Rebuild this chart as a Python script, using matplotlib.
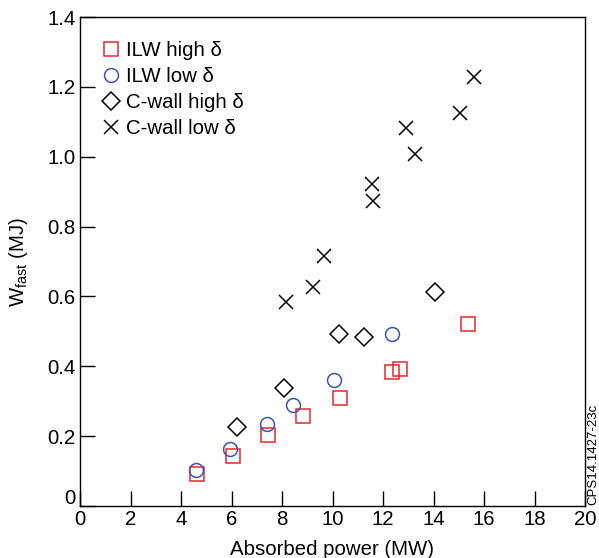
import matplotlib
matplotlib.use("Agg")
import matplotlib.pyplot as plt
from matplotlib.transforms import ScaledTranslation

plt.rcParams['font.family'] = ['Liberation Sans', 'DejaVu Sans']
plt.rcParams['mathtext.fontset'] = 'custom'
plt.rcParams['mathtext.rm'] = 'Liberation Sans'
plt.rcParams['mathtext.it'] = 'Liberation Sans:italic'

# Data
ilw_high_x = [4.62, 6.05, 7.46, 8.82, 10.28, 12.34, 12.66, 15.38]
ilw_high_y = [0.092, 0.143, 0.204, 0.258, 0.309, 0.385, 0.393, 0.521]

ilw_low_x = [4.58, 5.95, 7.39, 8.45, 10.06, 12.36]
ilw_low_y = [0.103, 0.162, 0.234, 0.289, 0.360, 0.493]

cwall_high_x = [6.20, 8.08, 10.27, 11.23, 14.07]
cwall_high_y = [0.225, 0.337, 0.493, 0.485, 0.614]

cwall_low_x = [8.16, 9.24, 9.68, 11.58, 11.59, 12.92, 13.28, 15.05, 15.62]
cwall_low_y = [0.585, 0.627, 0.717, 0.923, 0.872, 1.082, 1.009, 1.125, 1.228]

x_ticks = [0, 2, 4, 6, 8, 10, 12, 14, 16, 18, 20]
y_ticks = [0, 0.2, 0.4, 0.6, 0.8, 1.0, 1.2, 1.4]
y_ticklabels = ['0', '0.2', '0.4', '0.6', '0.8', '1.0', '1.2', '1.4']

red = '#e8262a'
blue = '#3b55a8'
fs = 14.7

fig = plt.figure(figsize=(5.99, 5.58), dpi=100)
ax = fig.add_axes([80/599, 1 - 506/558, 505/599, 489/558])

ax.plot(ilw_high_x, ilw_high_y, 's', ms=10, mfc='none', mec=red, mew=1.1, label='ILW high δ')
ax.plot(ilw_low_x, ilw_low_y, 'o', ms=10, mfc='none', mec=blue, mew=1.1, label='ILW low δ')
ax.plot(cwall_high_x, cwall_high_y, 'D', ms=9, mfc='none', mec='black', mew=1.1, label='C-wall high δ')
ax.plot(cwall_low_x, cwall_low_y, 'x', ms=10, mec='black', mew=1.1, label='C-wall low δ')

ax.set_xlim(0, 20)
ax.set_ylim(0, 1.4)
ax.set_xticks(x_ticks)
ax.set_yticks(y_ticks)
ax.set_yticklabels(y_ticklabels)
ax.tick_params(direction='in', length=11, width=1, labelsize=fs, pad=3)
ax.tick_params(axis='y', pad=3)
for s in ax.spines.values():
    s.set_linewidth(1.0)

# shift "0" y-label upward
lbl0 = ax.get_yticklabels()[0]
lbl0.set_transform(lbl0.get_transform() + ScaledTranslation(0, 9/100, fig.dpi_scale_trans))

ax.set_xlabel('Absorbed power (MW)', fontsize=fs, labelpad=8)
ax.set_ylabel('W$_{\\rm fast}$ (MJ)', fontsize=fs, labelpad=13)

ax.legend(loc='upper left', bbox_to_anchor=(0.05, 0.95), frameon=False, fontsize=fs,
          handlelength=0.6, handletextpad=0.4, labelspacing=0.33, borderaxespad=0,
          borderpad=0, numpoints=1)

fig.text(593/599, 1 - 505/558, 'CPS14.1427-23c', rotation=90, fontsize=9.5,
         family=['Liberation Sans Narrow', 'Liberation Sans'],
         ha='center', va='bottom')

fig.savefig('out.png', dpi=100)
